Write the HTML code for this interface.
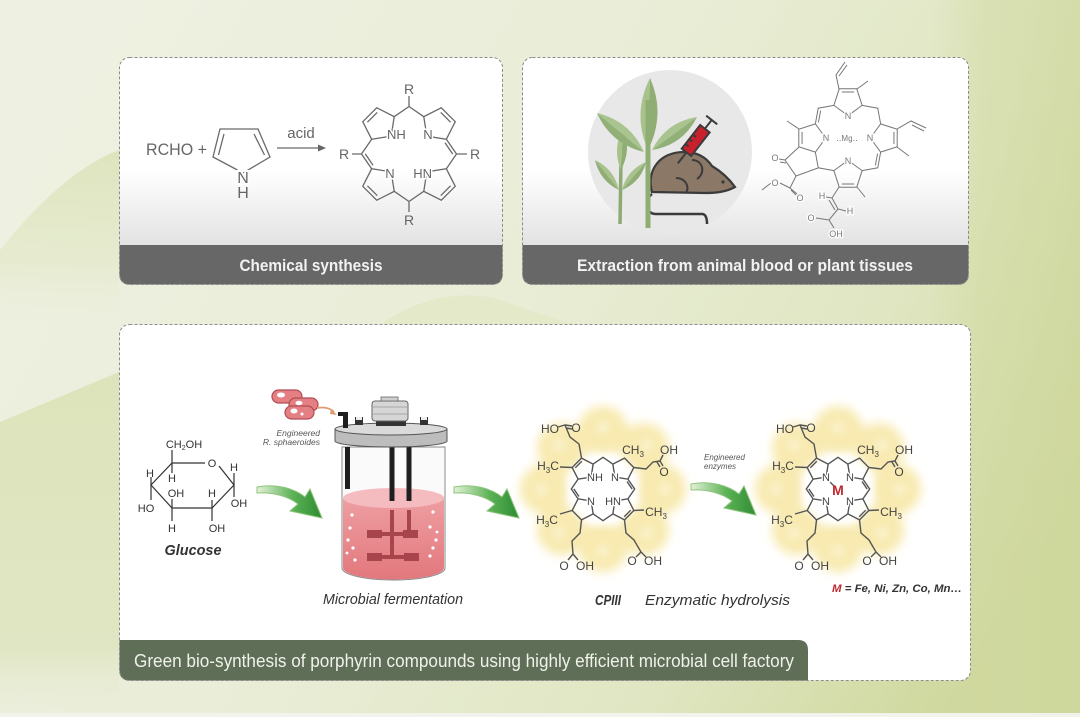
<!DOCTYPE html>
<html><head><meta charset="utf-8"><style>
html,body{margin:0;padding:0;background:#eef0e1;}
svg{display:block;}
text{font-family:"Liberation Sans",Arial,sans-serif;}
</style></head><body>
<svg width="1080" height="717" viewBox="0 0 1080 717" xmlns="http://www.w3.org/2000/svg">
<defs>
<linearGradient id="bg" x1="0" y1="0.3" x2="1" y2="0.7">
<stop offset="0" stop-color="#eef0e1"/>
<stop offset="0.45" stop-color="#e9edd6"/>
<stop offset="0.75" stop-color="#e0e6c2"/>
<stop offset="1" stop-color="#cfd89d"/>
</linearGradient>
<linearGradient id="leftg" x1="0" y1="0" x2="0" y2="1">
<stop offset="0" stop-color="#dde4bb"/>
<stop offset="0.8" stop-color="#e0e6c3"/>
<stop offset="1" stop-color="#e9ecd8" stop-opacity="0"/>
</linearGradient>
<linearGradient id="upg" gradientUnits="userSpaceOnUse" x1="0" y1="150" x2="0" y2="340">
<stop offset="0" stop-color="#dce3b9" stop-opacity="0.9"/>
<stop offset="0.6" stop-color="#e2e8c6" stop-opacity="0.6"/>
<stop offset="1" stop-color="#eef0e1" stop-opacity="0"/>
</linearGradient>
<linearGradient id="rightg" gradientUnits="userSpaceOnUse" x1="930" y1="0" x2="1080" y2="0">
<stop offset="0" stop-color="#d0d9a0" stop-opacity="0"/>
<stop offset="0.35" stop-color="#d0d9a0" stop-opacity="0.45"/>
<stop offset="1" stop-color="#cdd69b" stop-opacity="0.6"/>
</linearGradient>
<linearGradient id="boxg" x1="0" y1="0" x2="0" y2="1">
<stop offset="0" stop-color="#ffffff"/>
<stop offset="0.5" stop-color="#ffffff"/>
<stop offset="0.83" stop-color="#e2e2e2"/>
<stop offset="1" stop-color="#dedede"/>
</linearGradient>
<linearGradient id="liq" x1="0" y1="0" x2="0" y2="1">
<stop offset="0" stop-color="#ee9ea2"/>
<stop offset="1" stop-color="#e2787d"/>
</linearGradient>
<linearGradient id="arr" x1="0" y1="0" x2="1" y2="0">
<stop offset="0" stop-color="#e4f1d8"/>
<stop offset="0.55" stop-color="#5cb255"/>
<stop offset="1" stop-color="#2e8c33"/>
</linearGradient>
<filter id="blur" x="-50%" y="-50%" width="200%" height="200%"><feGaussianBlur stdDeviation="4"/></filter>
<filter id="blur5" x="-50%" y="-50%" width="200%" height="200%"><feGaussianBlur stdDeviation="5"/></filter>
</defs>

<!-- background -->
<rect x="0" y="0" width="1080" height="717" fill="url(#bg)"/>
<path d="M0,250 C40,200 80,165 119,150 V340 H0 Z" fill="url(#upg)"/>
<path d="M0,422 L119,372 V717 H0 Z" fill="url(#leftg)"/>
<path d="M380,325 C420,295 470,290 500,300 C530,310 560,322 580,325 Z" fill="#e2e8c6" opacity="0.8"/>
<rect x="930" y="0" width="150" height="717" fill="url(#rightg)"/>
<rect x="0" y="713" width="1080" height="4" fill="#f2f3ec"/>

<!-- BOX 1 -->
<rect x="119.5" y="57.5" width="383" height="227" rx="10" fill="url(#boxg)"/>
<path d="M119.5,245 H502.5 V274.5 Q502.5,284.5 492.5,284.5 H129.5 Q119.5,284.5 119.5,274.5 Z" fill="#676767"/>
<rect x="119.5" y="57.5" width="383" height="227" rx="10" fill="none" stroke="#8c8c8c" stroke-dasharray="3 2"/>
<text x="311" y="271" text-anchor="middle" font-size="17" font-weight="bold" fill="#f2f2f2" textLength="143" lengthAdjust="spacingAndGlyphs">Chemical synthesis</text>

<text x="146" y="155" font-size="17" fill="#666" textLength="61" lengthAdjust="spacingAndGlyphs">RCHO +</text>
<g fill="none" stroke="#6a6a6a" stroke-width="1.3">
<path d="M220,129 L258,129 L270,157 L243,173 L213,157 Z M224,134 L218.5,155 M254,134 L264.5,155"/>
<path d="M277,148 L319,148"/>
</g>
<polygon points="318,144.5 326,148 318,151.5" fill="#666"/>
<text x="243" y="183" text-anchor="middle" font-size="16" fill="#666" stroke="#fff" stroke-width="4" paint-order="stroke">N</text>
<text x="243" y="198" text-anchor="middle" font-size="16" fill="#666">H</text>
<text x="301" y="138" text-anchor="middle" font-size="15" fill="#666">acid</text>

<g transform="translate(409,154) rotate(45) scale(1.05)" fill="none" stroke="#6a6a6a" stroke-width="1.3">
<path vector-effect="non-scaling-stroke" d="M0,-24 L15.2,-35.1 L9.4,-52.9 L-9.4,-52.9 L-15.2,-35.1 Z M15.2,-35.1 L32,-32 L35.1,-15.2 M-6.6,-49.4 L6.6,-49.4 M16.7,-31.8 L29.5,-29.4"/>
<path transform="rotate(90)" vector-effect="non-scaling-stroke" d="M0,-24 L15.2,-35.1 L9.4,-52.9 L-9.4,-52.9 L-15.2,-35.1 Z M15.2,-35.1 L32,-32 L35.1,-15.2 M-6.6,-49.4 L6.6,-49.4"/>
<path transform="rotate(180)" vector-effect="non-scaling-stroke" d="M0,-24 L15.2,-35.1 L9.4,-52.9 L-9.4,-52.9 L-15.2,-35.1 Z M15.2,-35.1 L32,-32 L35.1,-15.2 M-6.6,-49.4 L6.6,-49.4 M16.7,-31.8 L29.5,-29.4"/>
<path transform="rotate(270)" vector-effect="non-scaling-stroke" d="M0,-24 L15.2,-35.1 L9.4,-52.9 L-9.4,-52.9 L-15.2,-35.1 Z M15.2,-35.1 L32,-32 L35.1,-15.2 M-6.6,-49.4 L6.6,-49.4"/>
</g>
<g stroke="#6a6a6a" stroke-width="1.3">
<path d="M409,106 L409,96 M409,202 L409,212 M361,154 L352,154 M457,154 L467,154"/>
</g>
<g font-size="14" fill="#666" text-anchor="middle">
<text x="409" y="94">R</text>
<text x="409" y="225">R</text>
<text x="344" y="159">R</text>
<text x="475" y="159">R</text>
</g>
<g font-size="13" fill="#666" stroke="#fff" stroke-width="3" paint-order="stroke">
<text x="387" y="139">NH</text>
<text x="428" y="139" text-anchor="middle">N</text>
<text x="390" y="178" text-anchor="middle">N</text>
<text x="432" y="178" text-anchor="end">HN</text>
</g>

<!-- BOX 2 -->
<rect x="522.5" y="57.5" width="446" height="227" rx="10" fill="url(#boxg)"/>
<circle cx="670" cy="152" r="82" fill="#e8e8e8"/>
<path d="M522.5,245 H968.5 V274.5 Q968.5,284.5 958.5,284.5 H532.5 Q522.5,284.5 522.5,274.5 Z" fill="#676767"/>
<rect x="522.5" y="57.5" width="446" height="227" rx="10" fill="none" stroke="#8c8c8c" stroke-dasharray="3 2"/>
<text x="745" y="271" text-anchor="middle" font-size="17" font-weight="bold" fill="#f2f2f2" textLength="336" lengthAdjust="spacingAndGlyphs">Extraction from animal blood or plant tissues</text>

<!-- plants -->
<path d="M620,224 L621,160" stroke="#8daa72" stroke-width="3.5" fill="none"/>
<path d="M621,170 Q612,149 623,128 Z" fill="#a8c28c"/>
<path d="M621,170 Q632,149 623,128 Z" fill="#8fad74"/>
<path d="M619,190 Q614,169 595,160 Z" fill="#a8c28c"/>
<path d="M619,190 Q600,181 595,160 Z" fill="#8fad74"/>
<path d="M622,190 Q627,170 646,162 Z" fill="#a8c28c"/>
<path d="M622,190 Q641,182 646,162 Z" fill="#8fad74"/>
<path d="M644,152 Q630,121 597,113 Z" fill="#a9c48e"/>
<path d="M644,152 Q611,144 597,113 Z" fill="#91b078"/>
<path d="M652,150 Q666,122 697,117 Z" fill="#a9c48e"/>
<path d="M652,150 Q683,145 697,117 Z" fill="#91b078"/>
<path d="M648,150 Q632,114 650,78 Z" fill="#a8c28c"/>
<path d="M648,150 Q666,114 650,78 Z" fill="#8fad74"/>
<!-- mouse -->
<path d="M652,192 C646,170 660,152 684,152 C700,152 708,160 712,166 C722,172 730,180 735,187 C726,192 716,193 705,193 Z" fill="#8b7866" stroke="#3b3b3b" stroke-width="2.2"/>
<path d="M692,160 C703,160 706,173 697,179 M676,178 C685,178 690,186 686,193" fill="none" stroke="#3b3b3b" stroke-width="2"/>
<circle cx="723" cy="182" r="1.6" fill="#3b3b3b"/>
<path d="M652,194 C644,200 645,214 656,214 L702,214 C706,214 707,218 707,224" fill="none" stroke="#3b3b3b" stroke-width="2.5"/>
<path d="M648,228 L648,100" stroke="#8fae74" stroke-width="5"/>
<!-- syringe -->
<g transform="translate(700,135) rotate(-52)">
<path d="M-22,0 L-36,0" stroke="#3b3b3b" stroke-width="2"/>
<rect x="-22" y="-6" width="30" height="12" fill="#c8202c" stroke="#3b3b3b" stroke-width="2"/>
<path d="M8,0 L19,0 M19,-7 L19,7 M-16,-6 L-16,-2 M-10,-6 L-10,-2 M-4,-6 L-4,-2" stroke="#3b3b3b" stroke-width="2"/>
</g>

<!-- chlorophyll -->
<g transform="translate(848,138) scale(0.93)" fill="none" stroke="#777" stroke-width="1">
<path vector-effect="non-scaling-stroke" d="M0,-24 L15.2,-35.1 L9.4,-52.9 L-9.4,-52.9 L-15.2,-35.1 Z M15.2,-35.1 L32,-32 L35.1,-15.2 M-6.6,-49.4 L6.6,-49.4"/>
<path transform="rotate(90)" vector-effect="non-scaling-stroke" d="M0,-24 L15.2,-35.1 L9.4,-52.9 L-9.4,-52.9 L-15.2,-35.1 Z M15.2,-35.1 L32,-32 L35.1,-15.2 M-6.6,-49.4 L6.6,-49.4 M16.7,-31.8 L29.5,-29.4"/>
<path transform="rotate(180)" vector-effect="non-scaling-stroke" d="M0,-24 L15.2,-35.1 L9.4,-52.9 L-9.4,-52.9 L-15.2,-35.1 Z M15.2,-35.1 L32,-32 L35.1,-15.2 M-6.6,-49.4 L6.6,-49.4"/>
<path transform="rotate(270)" vector-effect="non-scaling-stroke" d="M0,-24 L15.2,-35.1 L9.4,-52.9 L-9.4,-52.9 L-15.2,-35.1 Z M15.2,-35.1 L32,-32 L35.1,-15.2 M-6.6,-49.4 L6.6,-49.4 M16.7,-31.8 L29.5,-29.4"/>
</g>
<g fill="none" stroke="#777" stroke-width="1">
<path d="M839,89 L836,75 L845,62 M839,76 L847,65 M857,89 L868,81 M897,129 L911,121 L926,128 M912,125 L924,131 M897,147 L909,156 M799,129 L787,121 M799,147 L785,160 L796,176 L818,168 M785,160 L779,159 M786,163 L780,162 M796,176 L790,188 L797,194 M791,190 L796,195 M790,188 L780,183 M771,183 L762,190 M839,187 L832,198 L826,197 M832,198 L838,209 L846,211 M829,200 L835,210 M838,209 L829,220 L816,218 M829,220 L834,228 M857,187 L865,197"/>
</g>
<g font-size="9" fill="#777" text-anchor="middle" stroke="#fff" stroke-width="2.5" paint-order="stroke">
<text x="848" y="119">N</text>
<text x="848" y="164">N</text>
<text x="826" y="141">N</text>
<text x="870" y="141">N</text>
<text x="847" y="141" font-size="8">‥Mg‥</text>
<text x="775" y="161">O</text>
<text x="775" y="186">O</text>
<text x="800" y="201">O</text>
<text x="822" y="199">H</text>
<text x="850" y="214">H</text>
<text x="811" y="221">O</text>
<text x="836" y="237">OH</text>
</g>

<!-- BOX 3 -->
<rect x="119.5" y="324.5" width="851" height="356" rx="10" fill="#ffffff"/>
<path d="M119.5,640 H798 Q808,640 808,650 V680.5 H129.5 Q119.5,680.5 119.5,670.5 Z" fill="#5f6e57"/>
<rect x="119.5" y="324.5" width="851" height="356" rx="10" fill="none" stroke="#8c8c8c" stroke-dasharray="3 2"/>
<text x="134" y="667" font-size="18" fill="#f0f2ea" textLength="660" lengthAdjust="spacingAndGlyphs">Green bio-synthesis of porphyrin compounds using highly efficient microbial cell factory</text>

<!-- glucose -->
<g fill="none" stroke="#333" stroke-width="1.2">
<path d="M205,463 L172,463 L151,485 L172,508 L212,508 L234,485 L219,466"/>
<path d="M172,463 L172,450 M172,463 L172,473 M151,485 L151,477 M151,485 L151,500 M172,508 L172,499 M172,508 L172,521 M212,508 L212,500 M212,508 L212,521 M234,485 L234,473 M234,485 L234,497"/>
</g>
<g font-size="11" fill="#333" text-anchor="middle">
<text x="184" y="448">CH<tspan font-size="7" dy="2">2</tspan><tspan dy="-2">OH</tspan></text>
<text x="212" y="467">O</text>
<text x="150" y="477">H</text>
<text x="172" y="482">H</text>
<text x="234" y="471">H</text>
<text x="176" y="497">OH</text>
<text x="212" y="497">H</text>
<text x="146" y="512">HO</text>
<text x="239" y="507">OH</text>
<text x="172" y="532">H</text>
<text x="217" y="532">OH</text>
</g>
<text x="193" y="555" text-anchor="middle" font-size="15" font-weight="bold" font-style="italic" fill="#333" textLength="57" lengthAdjust="spacingAndGlyphs">Glucose</text>

<!-- arrows -->
<g transform="translate(257,487)">
<path d="M0,0 C20,-4 38,2 48,10 L53,2 L65,31 L33,24 L41,17 C32,10 18,5 0,6 Z" fill="none" stroke="#fff" stroke-width="4" stroke-linejoin="round"/>
<path d="M0,0 C20,-4 38,2 48,10 L53,2 L65,31 L33,24 L41,17 C32,10 18,5 0,6 Z" fill="url(#arr)" stroke="#8cc47c" stroke-width="1"/>
</g>
<g transform="translate(454,487)">
<path d="M0,0 C20,-4 38,2 48,10 L53,2 L65,31 L33,24 L41,17 C32,10 18,5 0,6 Z" fill="none" stroke="#fff" stroke-width="4" stroke-linejoin="round"/>
<path d="M0,0 C20,-4 38,2 48,10 L53,2 L65,31 L33,24 L41,17 C32,10 18,5 0,6 Z" fill="url(#arr)" stroke="#8cc47c" stroke-width="1"/>
</g>
<g transform="translate(691,484)">
<path d="M0,0 C20,-4 38,2 48,10 L53,2 L65,31 L33,24 L41,17 C32,10 18,5 0,6 Z" fill="none" stroke="#fff" stroke-width="4" stroke-linejoin="round"/>
<path d="M0,0 C20,-4 38,2 48,10 L53,2 L65,31 L33,24 L41,17 C32,10 18,5 0,6 Z" fill="url(#arr)" stroke="#8cc47c" stroke-width="1"/>
</g>

<!-- fermenter -->
<path d="M342,447 V568 A51.5,12 0 0 0 445,568 V447 Z" fill="#fafafa" stroke="#8a8a8a" stroke-width="1"/>
<path d="M343,498 V568 A50.5,11.5 0 0 0 444,568 V498 Z" fill="url(#liq)"/>
<ellipse cx="393.5" cy="498" rx="50.5" ry="10" fill="#f5bcc0"/>
<rect x="345" y="447" width="5" height="42" fill="#1f1f1f"/>
<rect x="389.5" y="447" width="5" height="54" fill="#1f1f1f"/>
<rect x="406.5" y="447" width="5" height="54" fill="#1f1f1f"/>
<g fill="#a8454c">
<rect x="390" y="510" width="4" height="48"/>
<rect x="407" y="510" width="4" height="25"/>
<rect x="382" y="532" width="22" height="4"/>
<rect x="382" y="555" width="22" height="4"/>
<rect x="367" y="530" width="15" height="8"/>
<rect x="403" y="530" width="15" height="8"/>
<rect x="367" y="553" width="15" height="8"/>
<rect x="404" y="553" width="15" height="8"/>
</g>
<g fill="#fff">
<circle cx="352" cy="515" r="1.6"/><circle cx="350" cy="528" r="1.6"/><circle cx="348" cy="540" r="1.6"/><circle cx="353" cy="548" r="1.6"/><circle cx="355" cy="560" r="1.6"/><circle cx="347" cy="553" r="1.4"/>
<circle cx="433" cy="512" r="1.6"/><circle cx="430" cy="527" r="1.6"/><circle cx="436" cy="540" r="1.6"/><circle cx="433" cy="548" r="1.6"/><circle cx="430" cy="556" r="1.6"/><circle cx="437" cy="532" r="1.4"/>
</g>
<path d="M335,429 V441 A56,6 0 0 0 447,441 V429 Z" fill="#bdbdbd" stroke="#555" stroke-width="1"/>
<ellipse cx="391" cy="429" rx="56" ry="6" fill="#dadada" stroke="#555" stroke-width="1"/>
<rect x="376" y="421" width="30" height="5" fill="#333"/>
<rect x="372" y="401" width="36" height="20" rx="3" fill="#d6d6d6" stroke="#666" stroke-width="1"/>
<path d="M372,407 H408 M372,414 H408" stroke="#999" stroke-width="0.8"/>
<rect x="381" y="397" width="17" height="4" fill="#cfcfcf" stroke="#666" stroke-width="0.8"/>
<rect x="355" y="417" width="8" height="8" fill="#333"/>
<rect x="356" y="417" width="6" height="3" fill="#eee"/>
<rect x="420" y="417" width="8" height="8" fill="#333"/>
<rect x="421" y="417" width="6" height="3" fill="#eee"/>
<rect x="338" y="412" width="10" height="4" fill="#1f1f1f"/>
<rect x="343" y="412" width="5" height="16" fill="#1f1f1f"/>
<!-- bacteria -->
<g stroke="#b14d54" stroke-width="1.2" fill="#e47f84">
<rect x="272" y="390" width="30" height="13" rx="6.5"/>
<rect x="289" y="398" width="29" height="13" rx="6.5"/>
<rect x="285" y="406" width="29" height="13" rx="6.5"/>
</g>
<g fill="#fff">
<ellipse cx="281" cy="395" rx="4" ry="2.5"/>
<ellipse cx="299" cy="403" rx="3.5" ry="2.2"/>
<ellipse cx="294" cy="411" rx="3.5" ry="2.5"/>
<circle cx="302" cy="414" r="1.5"/>
</g>
<path d="M317,408 Q328,406 334,412" fill="none" stroke="#e09a70" stroke-width="1.8"/>
<polygon points="331,409 337,415 330,414" fill="#e09a70"/>
<g font-size="8.5" font-style="italic" fill="#555" text-anchor="end">
<text x="320" y="436">Engineered</text>
<text x="320" y="445">R. sphaeroides</text>
</g>
<text x="323" y="604" font-size="15" font-style="italic" fill="#333" textLength="140" lengthAdjust="spacingAndGlyphs">Microbial fermentation</text>

<!-- glow CPIII -->
<g transform="translate(603,489)">
<g filter="url(#blur5)" fill="#f8eab0">
<circle cx="58" cy="0" r="25"/><circle cx="41" cy="41" r="25"/><circle cx="0" cy="58" r="25"/><circle cx="-41" cy="41" r="25"/>
<circle cx="-58" cy="0" r="25"/><circle cx="-41" cy="-41" r="25"/><circle cx="0" cy="-58" r="25"/><circle cx="41" cy="-41" r="25"/>
</g>
<g filter="url(#blur)" fill="#fff" opacity="0.4">
<circle cx="62" cy="0" r="6"/><circle cx="44" cy="44" r="6"/><circle cx="0" cy="62" r="6"/><circle cx="-44" cy="44" r="6"/>
<circle cx="-62" cy="0" r="6"/><circle cx="-44" cy="-44" r="6"/><circle cx="0" cy="-62" r="6"/><circle cx="44" cy="-44" r="6"/>
</g>
<circle cx="0" cy="0" r="35" fill="#fff" filter="url(#blur)"/>
</g>
<!-- glow metal -->
<g transform="translate(838,489)">
<g filter="url(#blur5)" fill="#f8eab0">
<circle cx="58" cy="0" r="25"/><circle cx="41" cy="41" r="25"/><circle cx="0" cy="58" r="25"/><circle cx="-41" cy="41" r="25"/>
<circle cx="-58" cy="0" r="25"/><circle cx="-41" cy="-41" r="25"/><circle cx="0" cy="-58" r="25"/><circle cx="41" cy="-41" r="25"/>
</g>
<g filter="url(#blur)" fill="#fff" opacity="0.4">
<circle cx="62" cy="0" r="6"/><circle cx="44" cy="44" r="6"/><circle cx="0" cy="62" r="6"/><circle cx="-44" cy="44" r="6"/>
<circle cx="-62" cy="0" r="6"/><circle cx="-44" cy="-44" r="6"/><circle cx="0" cy="-62" r="6"/><circle cx="44" cy="-44" r="6"/>
</g>
<circle cx="0" cy="0" r="35" fill="#fff" filter="url(#blur)"/>
</g>

<!-- CPIII -->
<g transform="translate(603,489)">
<g transform="rotate(45) scale(0.7)" fill="none" stroke="#555" stroke-width="1.4">
<path vector-effect="non-scaling-stroke" d="M0,-24 L15.2,-35.1 L9.4,-52.9 L-9.4,-52.9 L-15.2,-35.1 Z M15.2,-35.1 L32,-32 L35.1,-15.2 M16.7,-31.8 L29.5,-29.4"/>
<path transform="rotate(90)" vector-effect="non-scaling-stroke" d="M0,-24 L15.2,-35.1 L9.4,-52.9 L-9.4,-52.9 L-15.2,-35.1 Z M15.2,-35.1 L32,-32 L35.1,-15.2 M-6.6,-49.4 L6.6,-49.4"/>
<path transform="rotate(180)" vector-effect="non-scaling-stroke" d="M0,-24 L15.2,-35.1 L9.4,-52.9 L-9.4,-52.9 L-15.2,-35.1 Z M15.2,-35.1 L32,-32 L35.1,-15.2 M16.7,-31.8 L29.5,-29.4"/>
<path transform="rotate(270)" vector-effect="non-scaling-stroke" d="M0,-24 L15.2,-35.1 L9.4,-52.9 L-9.4,-52.9 L-15.2,-35.1 Z M15.2,-35.1 L32,-32 L35.1,-15.2 M-6.6,-49.4 L6.6,-49.4"/>
</g>
<path d="M-21.5,-31 L-24,-45 L-33,-52 L-38,-64 L-45,-62 M-38,-64 L-31,-63 M-37,-61 L-31,-60 M31,-21.5 L43,-20 L50,-27 L57,-28 L60,-34 M57,-28 L60,-23 M54,-27 L57,-22 M-21.5,31 L-23,44 L-31,52 L-30,65 L-35,71 M-30,65 L-25,71 M21.5,31 L23,44 L31,51 L38,63 L33,68 M38,63 L43,68 M-31,-21.5 L-43,-22 M-31,21.5 L-43,25 M31,21.5 L41,21" fill="none" stroke="#555" stroke-width="1.4"/>
<g font-size="12" fill="#444" text-anchor="middle">
<text x="-53" y="-56">HO</text>
<text x="-27" y="-57">O</text>
<text x="30" y="-35">CH<tspan font-size="8" dy="3">3</tspan></text>
<text x="66" y="-35">OH</text>
<text x="61" y="-13">O</text>
<text x="-55" y="-19">H<tspan font-size="8" dy="3">3</tspan><tspan dy="-3">C</tspan></text>
<text x="-56" y="35">H<tspan font-size="8" dy="3">3</tspan><tspan dy="-3">C</tspan></text>
<text x="53" y="27">CH<tspan font-size="8" dy="3">3</tspan></text>
<text x="-39" y="81">O</text>
<text x="-18" y="81">OH</text>
<text x="29" y="76">O</text>
<text x="50" y="76">OH</text>
</g>
<g font-size="11" fill="#444" stroke="#fff" stroke-width="2.5" paint-order="stroke">
<text x="-16" y="-8">NH</text>
<text x="12" y="-8" text-anchor="middle">N</text>
<text x="-12" y="16" text-anchor="middle">N</text>
<text x="18" y="16" text-anchor="end">HN</text>
</g>
</g>
<text x="608" y="605" text-anchor="middle" font-size="15" font-weight="bold" font-style="italic" fill="#333" textLength="26" lengthAdjust="spacingAndGlyphs">CPIII</text>
<g font-size="8" font-style="italic" fill="#555">
<text x="704" y="460">Engineered</text>
<text x="704" y="469">enzymes</text>
</g>
<text x="645" y="605" font-size="15" font-style="italic" fill="#333" textLength="145" lengthAdjust="spacingAndGlyphs">Enzymatic hydrolysis</text>

<!-- Metal porphyrin -->
<g transform="translate(838,489)">
<g transform="rotate(45) scale(0.7)" fill="none" stroke="#555" stroke-width="1.4">
<path vector-effect="non-scaling-stroke" d="M0,-24 L15.2,-35.1 L9.4,-52.9 L-9.4,-52.9 L-15.2,-35.1 Z M15.2,-35.1 L32,-32 L35.1,-15.2 M16.7,-31.8 L29.5,-29.4"/>
<path transform="rotate(90)" vector-effect="non-scaling-stroke" d="M0,-24 L15.2,-35.1 L9.4,-52.9 L-9.4,-52.9 L-15.2,-35.1 Z M15.2,-35.1 L32,-32 L35.1,-15.2 M-6.6,-49.4 L6.6,-49.4"/>
<path transform="rotate(180)" vector-effect="non-scaling-stroke" d="M0,-24 L15.2,-35.1 L9.4,-52.9 L-9.4,-52.9 L-15.2,-35.1 Z M15.2,-35.1 L32,-32 L35.1,-15.2 M16.7,-31.8 L29.5,-29.4"/>
<path transform="rotate(270)" vector-effect="non-scaling-stroke" d="M0,-24 L15.2,-35.1 L9.4,-52.9 L-9.4,-52.9 L-15.2,-35.1 Z M15.2,-35.1 L32,-32 L35.1,-15.2 M-6.6,-49.4 L6.6,-49.4"/>
</g>
<path d="M-21.5,-31 L-24,-45 L-33,-52 L-38,-64 L-45,-62 M-38,-64 L-31,-63 M-37,-61 L-31,-60 M31,-21.5 L43,-20 L50,-27 L57,-28 L60,-34 M57,-28 L60,-23 M54,-27 L57,-22 M-21.5,31 L-23,44 L-31,52 L-30,65 L-35,71 M-30,65 L-25,71 M21.5,31 L23,44 L31,51 L38,63 L33,68 M38,63 L43,68 M-31,-21.5 L-43,-22 M-31,21.5 L-43,25 M31,21.5 L41,21 M-8,-7 L-4,-3" fill="none" stroke="#555" stroke-width="1.4"/>
<g font-size="12" fill="#444" text-anchor="middle">
<text x="-53" y="-56">HO</text>
<text x="-27" y="-57">O</text>
<text x="30" y="-35">CH<tspan font-size="8" dy="3">3</tspan></text>
<text x="66" y="-35">OH</text>
<text x="61" y="-13">O</text>
<text x="-55" y="-19">H<tspan font-size="8" dy="3">3</tspan><tspan dy="-3">C</tspan></text>
<text x="-56" y="35">H<tspan font-size="8" dy="3">3</tspan><tspan dy="-3">C</tspan></text>
<text x="53" y="27">CH<tspan font-size="8" dy="3">3</tspan></text>
<text x="-39" y="81">O</text>
<text x="-18" y="81">OH</text>
<text x="29" y="76">O</text>
<text x="50" y="76">OH</text>
</g>
<g font-size="11" fill="#444" text-anchor="middle" stroke="#fff" stroke-width="2.5" paint-order="stroke">
<text x="-12" y="-8">N</text>
<text x="12" y="-8">N</text>
<text x="-12" y="16">N</text>
<text x="12" y="16">N</text>
</g>
<text x="0" y="6" text-anchor="middle" font-size="14" font-weight="bold" fill="#c0282d">M</text>
</g>
<text x="832" y="592" font-size="11" font-weight="bold" font-style="italic" fill="#333" textLength="130" lengthAdjust="spacingAndGlyphs"><tspan fill="#c0282d">M</tspan> = Fe, Ni, Zn, Co, Mn…</text>

</svg>
</body></html>
